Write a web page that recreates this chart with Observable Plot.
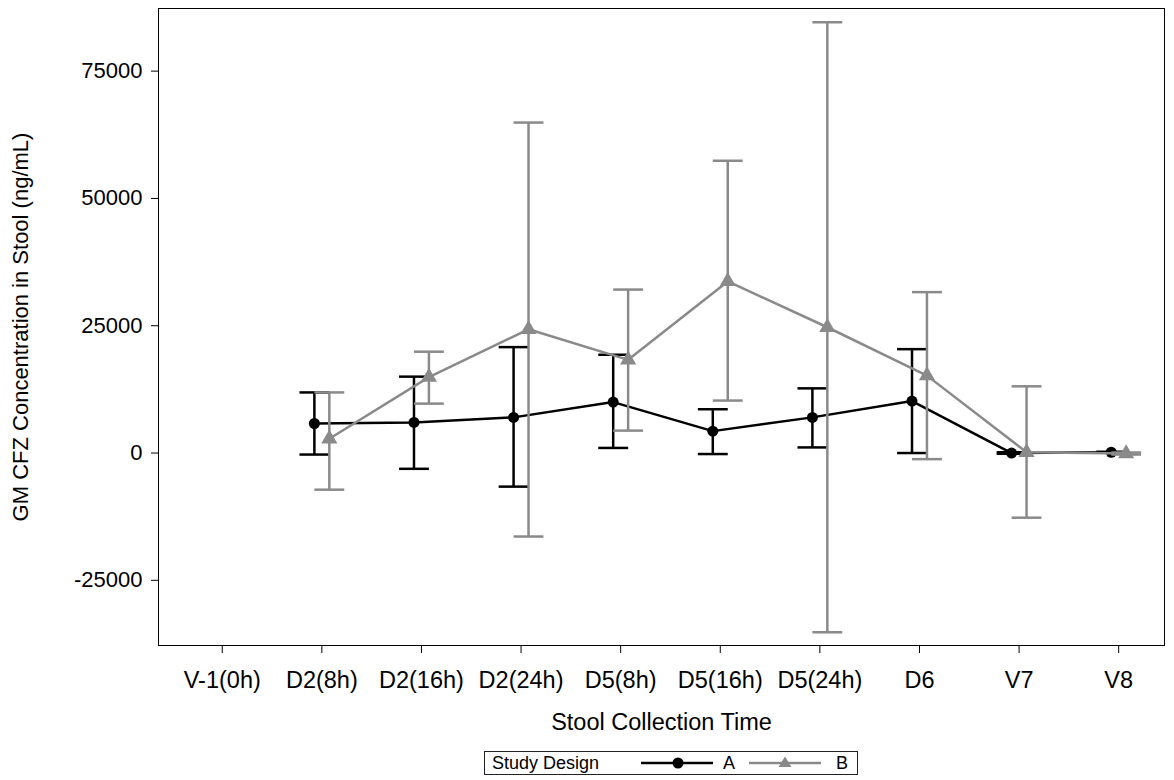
<!DOCTYPE html>
<html>
<head>
<meta charset="utf-8">
<script src="https://cdn.jsdelivr.net/npm/d3@7"></script>
<script src="https://cdn.jsdelivr.net/npm/@observablehq/plot@0.6"></script>
<style>
  html, body { margin: 0; padding: 0; background: #fff; }
  body { font-family: "Liberation Sans", Arial, sans-serif; position: relative; width: 1174px; height: 780px; }
  #legend { position: absolute; left: 484px; top: 751px; width: 372px; height: 22px; border: 1px solid #222;
            font-size: 18px; display: flex; align-items: center; box-sizing: content-box; }
  #legend span { white-space: nowrap; }
</style>
</head>
<body>
<div id="chart"></div>
<div id="legend">
  <span style="margin-left:7px">Study Design</span>
  <svg width="72" height="20" style="margin-left:42px"><line x1="0" y1="10" x2="72" y2="10" stroke="black" stroke-width="2.5"/><circle cx="37" cy="10" r="5.5" fill="black"/></svg>
  <span style="margin-left:10px">A</span>
  <svg width="72" height="20" style="margin-left:14px"><line x1="0" y1="10" x2="72" y2="10" stroke="#8a8a8a" stroke-width="2.5"/><path d="M36,3.5 L42.5,14 L29.5,14 Z" fill="#8a8a8a"/></svg>
  <span style="margin-left:15px">B</span>
</div>
<script>
const labels = ["V-1(0h)", "D2(8h)", "D2(16h)", "D2(24h)", "D5(8h)", "D5(16h)", "D5(24h)", "D6", "V7", "V8"];
// Series A (index 1..9)
const idx    = [1, 2, 3, 4, 5, 6, 7, 8, 9];
const aMean  = [5800, 6000, 7000, 10000, 4300, 7000, 10200, 0, 150];
const aLower = [-300, -3100, -6600, 1000, -200, 1100, 0, -150, 50];
const aUpper = [11900, 15000, 20800, 19300, 8600, 12700, 20400, 150, 250];
// Series B
const bMean  = [2800, 14900, 24300, 18300, 33700, 24700, 15200, 150, -100];
const bLower = [-7200, 9700, -16400, 4400, 10300, -35200, -1200, -12700, -300];
const bUpper = [11900, 19900, 64900, 32100, 57400, 84600, 31600, 13100, 100];
const yTicks = [-25000, 0, 25000, 50000, 75000];

const off = 0.075, cap = 0.15;
const A = idx.map((i, k) => ({x: i - off, mean: aMean[k], lo: aLower[k], hi: aUpper[k]}));
const B = idx.map((i, k) => ({x: i + off, mean: bMean[k], lo: bLower[k], hi: bUpper[k]}));
const gray = "#8a8a8a";

function series(data, color, symbol, r, sw) {
  return [
    Plot.ruleX(data, {x: "x", y1: "lo", y2: "hi", stroke: color, strokeWidth: 2.5}),
    Plot.link(data, {x1: d => d.x - cap, x2: d => d.x + cap, y1: "hi", y2: "hi", stroke: color, strokeWidth: 2.5}),
    Plot.link(data, {x1: d => d.x - cap, x2: d => d.x + cap, y1: "lo", y2: "lo", stroke: color, strokeWidth: 2.5}),
    Plot.line(data, {x: "x", y: "mean", stroke: color, strokeWidth: sw}),
    Plot.dot(data, {x: "x", y: "mean", symbol, fill: color, stroke: "none", r})
  ];
}

const chart = Plot.plot({
  width: 1174,
  height: 735,
  marginLeft: 158,
  marginRight: 10,
  marginTop: 8,
  marginBottom: 90,
  style: {fontFamily: "'Liberation Sans', Arial, sans-serif", fontSize: "22px", color: "black", background: "white"},
  x: {domain: [-0.64, 9.46]},
  y: {domain: [-37800, 87300]},
  marks: [
    Plot.frame({stroke: "black", strokeWidth: 1}),
    Plot.axisX({ticks: d3.range(0, 10), tickFormat: i => labels[i], tickSize: 8, tickPadding: 18,
                fontSize: 23.5, label: "Stool Collection Time", labelAnchor: "center", labelArrow: "none", labelOffset: 84}),
    Plot.axisY({ticks: yTicks, tickFormat: d => String(d), tickSize: 7, tickPadding: 9,
                fontSize: 22, label: "GM CFZ Concentration in Stool (ng/mL)", labelAnchor: "center", labelArrow: "none", labelOffset: 146}),
    ...series(A, "black", "circle", 5.5, 2.5),
    ...series(B, gray, "triangle", 6, 2.5)
  ]
});
document.getElementById("chart").appendChild(chart);
</script>
</body>
</html>
